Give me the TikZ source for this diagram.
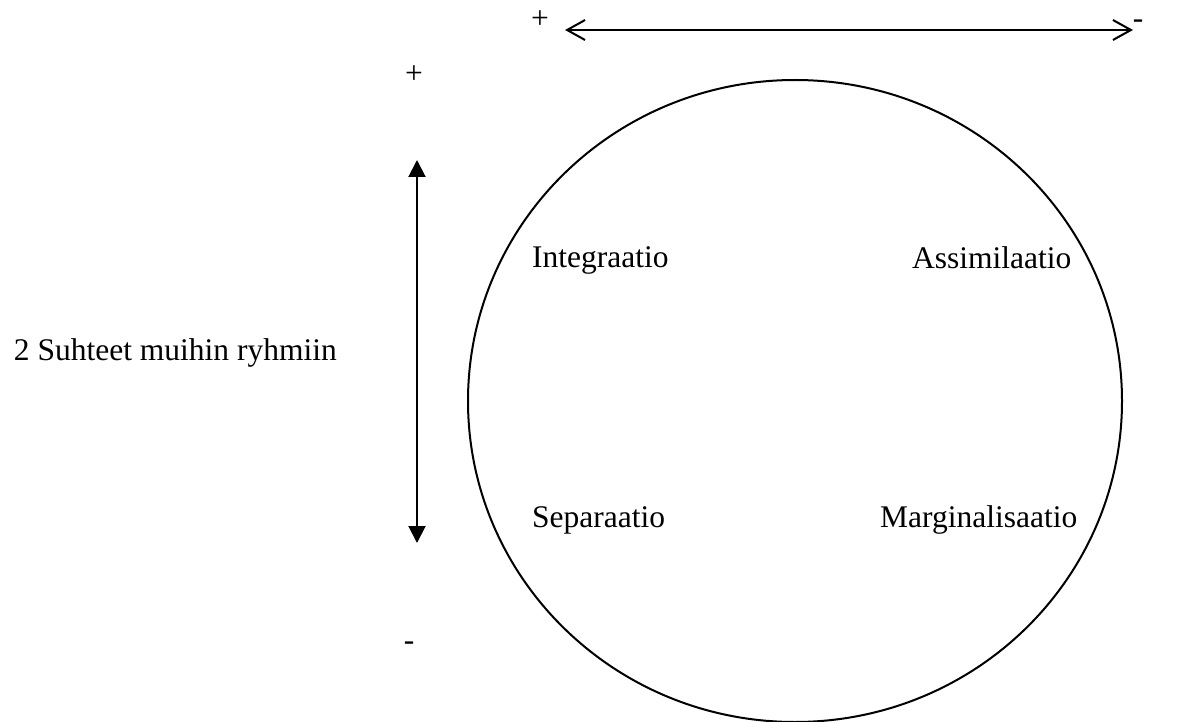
\documentclass[tikz,border=0pt]{standalone}
\usepackage{fontspec}
\setmainfont{Liberation Serif}
\usetikzlibrary{arrows.meta}
\tikzset{
  lbl/.style={inner sep=0pt, font=\fontsize{31.5}{38}\selectfont},
  openarrow/.style={line width=2pt, {Straight Barb[length=18pt,width=20pt,line width=2pt]}-{Straight Barb[length=18pt,width=20pt,line width=2pt]}},
  filledarrow/.style={line width=2pt, {Triangle[length=17pt,width=17pt]}-{Triangle[length=17pt,width=17pt]}},
  ring/.style={draw, line width=2pt}
}
\begin{document}
\begin{tikzpicture}[x=1pt,y=-1pt]
\useasboundingbox (0,0) rectangle (1192,722);
% circle
\draw[ring] (795,401) ellipse [x radius=327, y radius=321];
% horizontal arrow
\coordinate (hl) at (565,30);
\coordinate (hr) at (1133,30);
\draw[openarrow] (hl) -- (hr);
\node[lbl, anchor=base] (hplus) at (540,29) {+};
\node[lbl, anchor=base] (hminus) at (1138,29) {-};
% vertical arrow
\coordinate (vt) at (417,160);
\coordinate (vb) at (417,543);
\draw[filledarrow] (vt) -- (vb);
\node[lbl, anchor=base] (vplus) at (414,84) {+};
\node[lbl, anchor=base] (vminus) at (409,650) {-};
\node[lbl, anchor=base east] (axis) at (337,360) {2 Suhteet muihin ryhmiin};
% quadrant labels
\node[lbl, anchor=base west] (int) at (532,268) {Integraatio};
\node[lbl, anchor=base west] (ass) at (912,269) {Assimilaatio};
\node[lbl, anchor=base west] (sep) at (532,527) {Separaatio};
\node[lbl, anchor=base west] (mar) at (880,527) {Marginalisaatio};
\end{tikzpicture}
\end{document}
